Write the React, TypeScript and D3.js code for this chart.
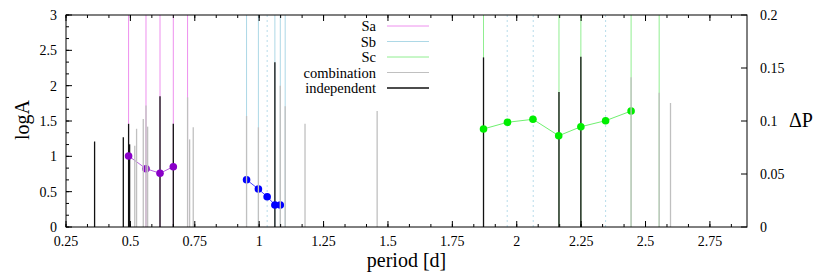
import React, { useEffect, useRef } from "react";
import * as d3 from "d3";

// tick values
const xTicks = [0.25, 0.5, 0.75, 1, 1.25, 1.5, 1.75, 2, 2.25, 2.5, 2.75];
const yTicks = [0, 0.5, 1, 1.5, 2, 2.5, 3];
const y2Ticks = [0, 0.05, 0.1, 0.15, 0.2];

// mode positions (full height lines)
const saPeriods = [0.493, 0.5606, 0.615, 0.6666, 0.722];
const sbPeriods = [0.951, 0.997, 1.061, 1.082, 1.101];
const scPeriods = [1.871, 2.164, 2.249, 2.444, 2.553];
const dashedPeriods = [1.031, 1.963, 2.064, 2.345];

// impulses: [period, logA]
const combination: [number, number][] = [
    [0.517, 1.15], [0.524, 1.39], [0.55, 1.53], [0.5606, 1.72], [0.567, 1.42],
    [0.722, 1.835], [0.73, 1.24], [0.744, 1.41], [0.951, 1.57], [0.997, 1.41],
    [1.082, 2.0], [1.101, 1.71], [1.178, 1.46], [1.458, 1.64],
    [2.444, 2.12], [2.553, 1.9], [2.597, 1.755]
];
const independent: [number, number][] = [
    [0.361, 1.21], [0.4725, 1.27], [0.493, 1.46], [0.497, 1.17], [0.615, 1.85],
    [0.6666, 1.46], [1.061, 2.33], [1.871, 2.4], [2.164, 1.91], [2.249, 2.41]
];

// period spacing: [period, deltaP]
const saSpacing: [number, number][] = [[0.493, 0.067], [0.5606, 0.055], [0.615, 0.0507], [0.6666, 0.0569]];
const sbSpacing: [number, number][] = [[0.951, 0.0446], [0.997, 0.0358], [1.031, 0.0286], [1.061, 0.0208], [1.082, 0.0208]];
const scSpacing: [number, number][] = [
    [1.871, 0.0925], [1.964, 0.0988], [2.063, 0.1016], [2.163, 0.0861],
    [2.249, 0.0946], [2.345, 0.1003], [2.444, 0.1094]
];

const legendNames = ["Sa", "Sb", "Sc", "combination", "independent"];
const legendColors = ["#ee90ee", "#add8e6", "#90ee90", "#c0c0c0", "#111111"];

const FONT = "'Liberation Serif', 'DejaVu Serif', 'Times New Roman', serif";

export default function App() {
    const ref = useRef<SVGSVGElement>(null);

    useEffect(() => {
        const width = 830, height = 277;
        const margin = { top: 15, right: 83, bottom: 50, left: 66 };
        const w = width - margin.left - margin.right;
        const h = height - margin.top - margin.bottom;

        const svg = d3.select(ref.current);
        svg.selectAll("*").remove();
        svg.attr("width", width).attr("height", height);

        const x = d3.scaleLinear().domain([0.25, 2.894]).range([0, w]);
        const y = d3.scaleLinear().domain([0, 3]).range([h, 0]);
        const y2 = d3.scaleLinear().domain([0, 0.2]).range([h, 0]);

        const g = svg.append("g")
            .attr("transform", "translate(" + margin.left + "," + margin.top + ")");

        // mode lines
        const vline = (periods: number[], color: string, dash?: string) => {
            g.append("g").selectAll("line")
                .data(periods)
                .enter().append("line")
                .attr("x1", d => x(d)).attr("x2", d => x(d))
                .attr("y1", y(0)).attr("y2", y(3))
                .attr("stroke", color)
                .attr("stroke-width", 1)
                .attr("stroke-dasharray", dash || null);
        };
        vline(saPeriods, legendColors[0]);
        vline(sbPeriods, legendColors[1]);
        vline(scPeriods, legendColors[2]);
        vline(dashedPeriods, "#b8dcea", "2,3");

        const impulses = (data: [number, number][], color: string) => {
            g.append("g").selectAll("line")
                .data(data)
                .enter().append("line")
                .attr("x1", d => x(d[0])).attr("x2", d => x(d[0]))
                .attr("y1", y(0)).attr("y2", d => y(d[1]))
                .attr("stroke", color)
                .attr("stroke-width", 1.3);
        };
        impulses(independent, legendColors[4]);

        // spacing series
        const line = d3.line<[number, number]>()
            .x(d => x(d[0]))
            .y(d => y2(d[1]));
        const series = (data: [number, number][], lineColor: string, pointColor: string) => {
            g.append("path")
                .datum(data)
                .attr("fill", "none")
                .attr("stroke", lineColor)
                .attr("stroke-width", 1)
                .attr("d", line);
            g.append("g").selectAll("circle")
                .data(data)
                .enter().append("circle")
                .attr("cx", d => x(d[0]))
                .attr("cy", d => y2(d[1]))
                .attr("r", 3.8)
                .attr("fill", pointColor);
        };
        series(saSpacing, "#b860e0", "#8a00c8");
        series(sbSpacing, "#4848ff", "#0000ff");
        series(scSpacing, "#70f070", "#00ee00");

        impulses(combination, legendColors[3]);

        // frame
        g.append("rect")
            .attr("width", w).attr("height", h)
            .attr("fill", "none")
            .attr("stroke", "#000")
            .attr("stroke-width", 1);

        // ticks
        const xMinor = d3.range(0, 32).map(k => 0.25 + k / 12).filter(v => v <= 2.894);
        const tick = (sel: any, data: number[], fx: (d: number) => number, len: number, top: boolean) => {
            sel.append("g").selectAll("line")
                .data(data)
                .enter().append("line")
                .attr("x1", fx).attr("x2", fx)
                .attr("y1", top ? 0 : h).attr("y2", top ? len : h - len)
                .attr("stroke", "#000").attr("stroke-width", 1);
        };
        tick(g, xMinor, d => x(d), 3, false);
        tick(g, xMinor, d => x(d), 3, true);
        tick(g, xTicks, d => x(d), 6, false);
        tick(g, xTicks, d => x(d), 6, true);

        const yMinor = d3.range(0, 19).map(k => k / 6);
        g.append("g").selectAll("line")
            .data(yMinor)
            .enter().append("line")
            .attr("x1", 0).attr("x2", 3)
            .attr("y1", d => y(d)).attr("y2", d => y(d))
            .attr("stroke", "#000");
        g.append("g").selectAll("line")
            .data(yTicks)
            .enter().append("line")
            .attr("x1", 0).attr("x2", 6)
            .attr("y1", d => y(d)).attr("y2", d => y(d))
            .attr("stroke", "#000");
        g.append("g").selectAll("line")
            .data(y2Ticks)
            .enter().append("line")
            .attr("x1", w).attr("x2", w - 6)
            .attr("y1", d => y2(d)).attr("y2", d => y2(d))
            .attr("stroke", "#000");

        // tick labels
        g.append("g").selectAll("text")
            .data(xTicks)
            .enter().append("text")
            .attr("x", d => x(d))
            .attr("y", h + 19)
            .attr("text-anchor", "middle")
            .style("font-family", FONT)
            .attr("font-size", 14)
            .text(d => String(d));
        g.append("g").selectAll("text")
            .data(yTicks)
            .enter().append("text")
            .attr("x", -9)
            .attr("y", d => y(d) + 5)
            .attr("text-anchor", "end")
            .style("font-family", FONT)
            .attr("font-size", 14)
            .text(d => String(d));
        g.append("g").selectAll("text")
            .data(y2Ticks)
            .enter().append("text")
            .attr("x", w + 13)
            .attr("y", d => y2(d) + 5)
            .attr("text-anchor", "start")
            .style("font-family", FONT)
            .attr("font-size", 14)
            .text(d => String(d));

        // axis titles
        svg.append("text")
            .attr("transform", "translate(29,120) rotate(-90)")
            .attr("text-anchor", "middle")
            .style("font-family", FONT)
            .attr("font-size", 20)
            .text("logA");
        svg.append("text")
            .attr("x", margin.left + w / 2)
            .attr("y", 267)
            .attr("text-anchor", "middle")
            .style("font-family", FONT)
            .attr("font-size", 20)
            .text("period [d]");
        svg.append("text")
            .attr("x", 789)
            .attr("y", 127)
            .style("font-family", FONT)
            .attr("font-size", 20)
            .text("ΔP");

        // legend
        const legend = svg.append("g");
        legendNames.forEach((name, i) => {
            const ly = 26 + i * 15.5;
            legend.append("text")
                .attr("x", 376)
                .attr("y", ly + 5)
                .attr("text-anchor", "end")
                .style("font-family", FONT)
                .attr("font-size", 14.5)
                .text(name);
            legend.append("line")
                .attr("x1", 387).attr("x2", 429)
                .attr("y1", ly).attr("y2", ly)
                .attr("stroke", legendColors[i])
                .attr("stroke-width", i === 4 ? 1.5 : 1);
        });
    }, []);

    return (
        <svg ref={ref} style={{ position: "absolute", left: 0, top: 0 }}></svg>
    );
}
